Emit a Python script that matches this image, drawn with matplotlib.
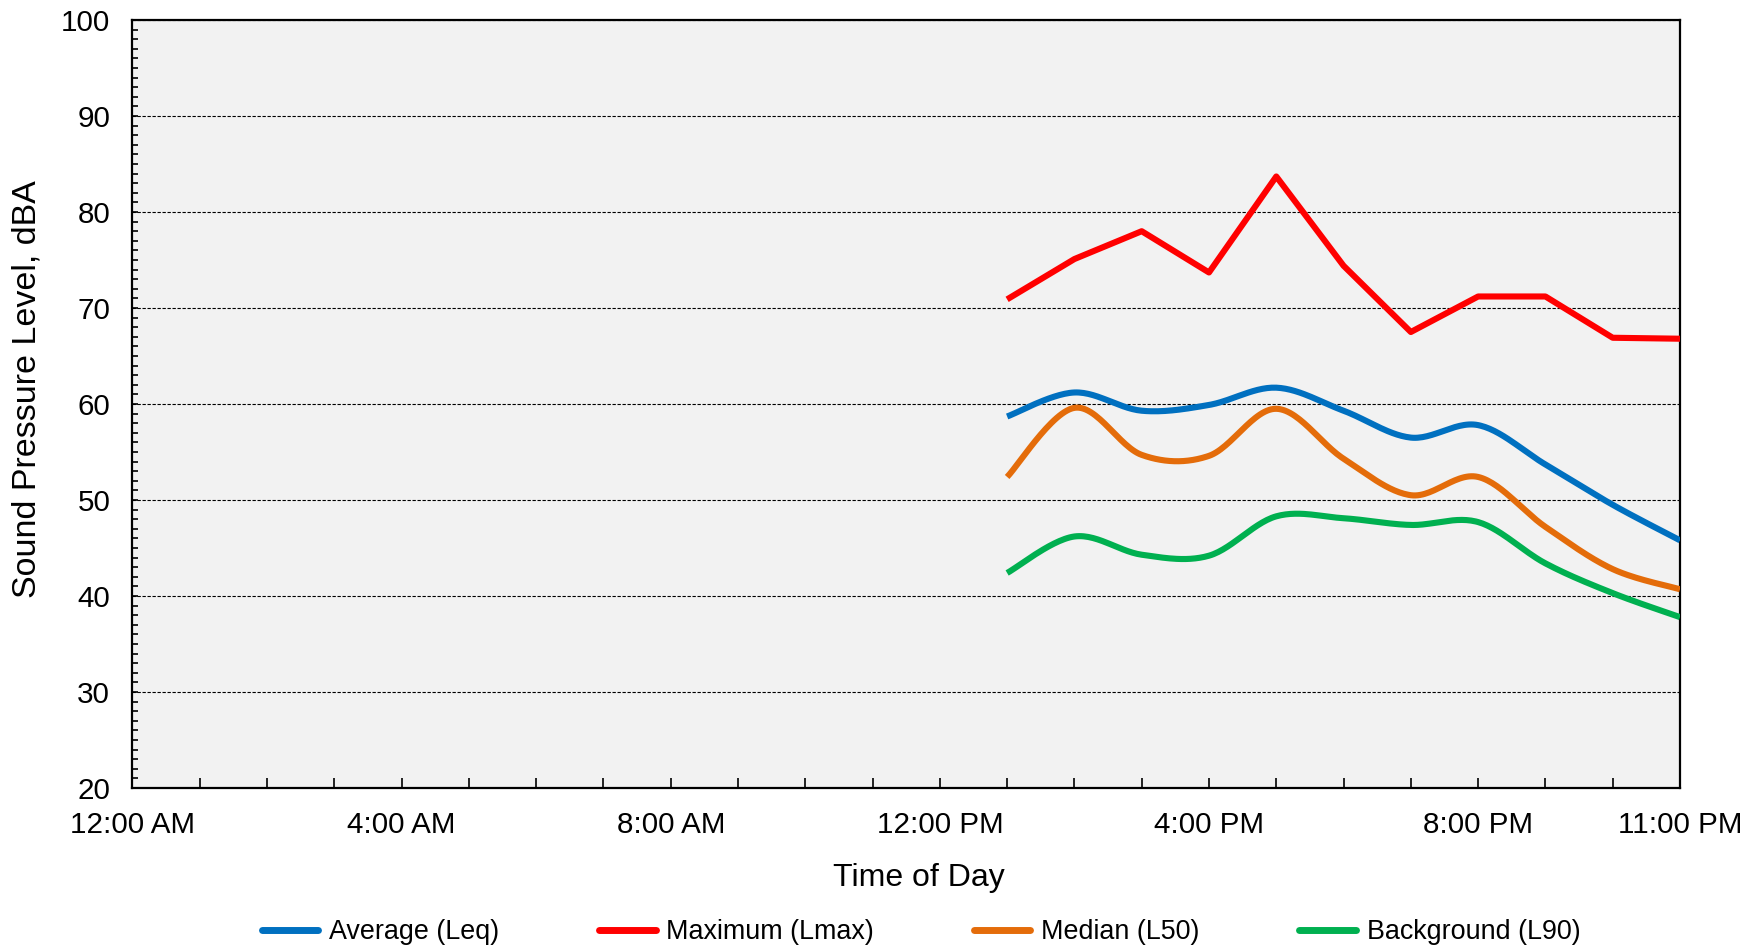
import numpy as np
import matplotlib
matplotlib.use("Agg")
import matplotlib.pyplot as plt
from matplotlib.ticker import MultipleLocator, FixedLocator

plt.rcParams['font.family'] = ['Liberation Sans', 'DejaVu Sans']

# ---- data ----
hours = [13, 14, 15, 16, 17, 18, 19, 20, 21, 22, 23]
leq  = [58.7, 61.2, 59.3, 59.9, 61.7, 59.3, 56.5, 57.8, 53.7, 49.5, 45.8]
lmax = [70.9, 75.1, 78.0, 73.7, 83.7, 74.4, 67.5, 71.2, 71.2, 66.9, 66.8]
l50  = [52.4, 59.6, 54.7, 54.6, 59.5, 54.3, 50.5, 52.4, 47.2, 42.8, 40.7]
l90  = [42.4, 46.2, 44.3, 44.2, 48.3, 48.1, 47.4, 47.7, 43.4, 40.3, 37.8]

xtick_pos = list(range(0, 24))
xlabel_pos = [0, 4, 8, 12, 16, 20, 23]
xlabel_txt = ["12:00 AM", "4:00 AM", "8:00 AM", "12:00 PM", "4:00 PM", "8:00 PM", "11:00 PM"]

series = [
    ("Average (Leq)", leq, "#0070C0", True),
    ("Maximum (Lmax)", lmax, "#FF0000", False),
    ("Median (L50)", l50, "#E46C0A", True),
    ("Background (L90)", l90, "#00B050", True),
]


def smooth(x, y, n=30):
    pts = np.column_stack([np.asarray(x, float), np.asarray(y, float)])
    P = np.vstack([pts[0], pts, pts[-1]])
    t = np.linspace(0, 1, n)[:, None]
    out = []
    for i in range(1, len(P) - 2):
        p0, p1, p2, p3 = P[i - 1], P[i], P[i + 1], P[i + 2]
        c1 = p1 + (p2 - p0) / 6.0
        c2 = p2 - (p3 - p1) / 6.0
        seg = (1 - t) ** 3 * p1 + 3 * (1 - t) ** 2 * t * c1 + 3 * (1 - t) * t ** 2 * c2 + t ** 3 * p2
        out.append(seg if i == 1 else seg[1:])
    s = np.vstack(out)
    return s[:, 0], s[:, 1]


fig = plt.figure(figsize=(17.6, 9.49), dpi=100)
ax = fig.add_axes([132.4 / 1760, 1 - 788 / 949, (1680 - 132.4) / 1760, (788 - 20) / 949])
ax.set_facecolor("#F2F2F2")

for name, vals, col, sm in series:
    if sm:
        xs, ys = smooth(hours, vals)
    else:
        xs, ys = hours, vals
    ax.plot(xs, ys, color=col, lw=4.4, label=name, solid_joinstyle='round',
            solid_capstyle='butt', zorder=3)

ax.set_xlim(0, 23)
ax.set_ylim(20, 100)

ax.yaxis.set_major_locator(MultipleLocator(10))
ax.yaxis.set_minor_locator(MultipleLocator(1))
ax.xaxis.set_major_locator(FixedLocator(xtick_pos))
ax.set_xticklabels([xlabel_txt[xlabel_pos.index(h)] if h in xlabel_pos else "" for h in xtick_pos])

ax.tick_params(axis='y', which='both', direction='in', length=4.5, width=1.2, labelsize=21.3, pad=16)
ax.tick_params(axis='x', which='both', direction='in', length=7, width=1.2, labelsize=21.3, pad=16.5)
ax.tick_params(axis='x', which='minor', length=0)
ax.tick_params(top=False, right=False)

for sp in ax.spines.values():
    sp.set_linewidth(1.6)
    sp.set_color("black")

ax.grid(axis='y', which='major', color='black', lw=0.8, linestyle=(0, (3, 1.5)), zorder=1)
ax.set_axisbelow(True)

ax.set_xlabel("Time of Day", fontsize=23, va='center')
ax.xaxis.set_label_coords(0.508, (788 - 878) / 768)
ax.set_ylabel("Sound Pressure Level, dBA", fontsize=24.5, va='center')
ax.yaxis.set_label_coords((27 - 132.4) / 1547.6, 0.519)

leg = fig.legend(loc='center', bbox_to_anchor=(921 / 1760, 1 - 932 / 949), ncol=4,
                 frameon=False, fontsize=19.4, handlelength=2.1, handletextpad=0.4,
                 columnspacing=3.7)
for h in leg.get_lines():
    h.set_linewidth(5)
    h.set_solid_capstyle('round')

fig.savefig("out.png", dpi=100)
